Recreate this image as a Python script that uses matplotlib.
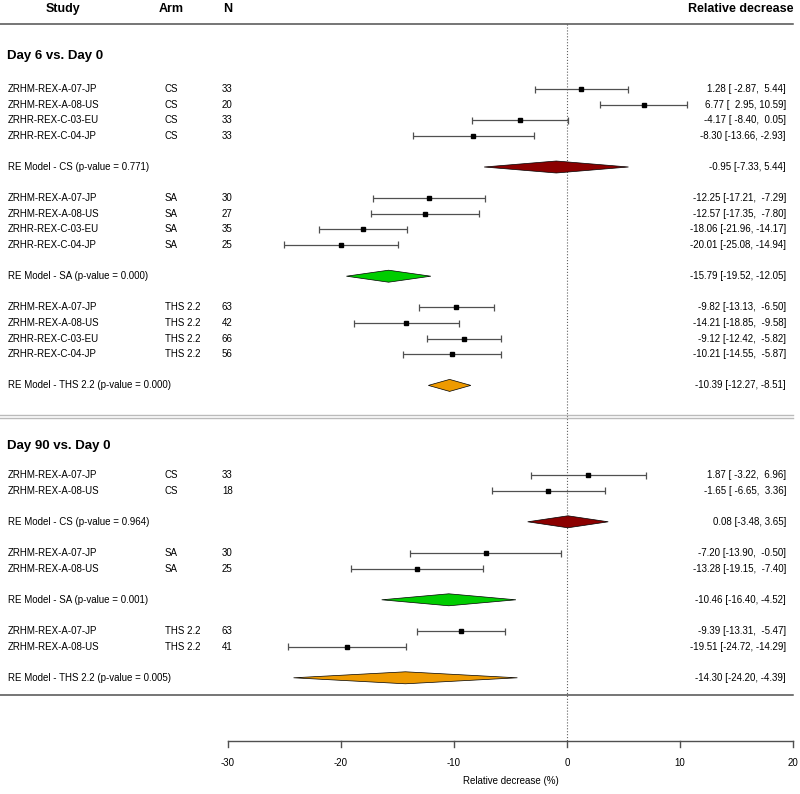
# Forest plot: relative decrease by study, arm and visit
import matplotlib
matplotlib.use("Agg")
import matplotlib.pyplot as plt

plt.rcParams['font.family'] = ['Liberation Sans', 'DejaVu Sans']

# ---- data ----
days = ["Day 6 vs. Day 0", "Day 90 vs. Day 0"]
arms = ["CS", "SA", "THS 2.2"]
arm_colors = ["#8B0000", "#00CD00", "#EE9A00"]

studies_d6 = ["ZRHM-REX-A-07-JP", "ZRHM-REX-A-08-US", "ZRHR-REX-C-03-EU", "ZRHR-REX-C-04-JP"]
studies_d90 = ["ZRHM-REX-A-07-JP", "ZRHM-REX-A-08-US"]

# Day 6
n_d6 = [[33, 20, 33, 33], [30, 27, 35, 25], [63, 42, 66, 56]]
est_d6 = [[1.28, 6.77, -4.17, -8.30], [-12.25, -12.57, -18.06, -20.01], [-9.82, -14.21, -9.12, -10.21]]
lo_d6 = [[-2.87, 2.95, -8.40, -13.66], [-17.21, -17.35, -21.96, -25.08], [-13.13, -18.85, -12.42, -14.55]]
hi_d6 = [[5.44, 10.59, 0.05, -2.93], [-7.29, -7.80, -14.17, -14.94], [-6.50, -9.58, -5.82, -5.87]]
re_est_d6 = [-0.95, -15.79, -10.39]
re_lo_d6 = [-7.33, -19.52, -12.27]
re_hi_d6 = [5.44, -12.05, -8.51]
re_p_d6 = ["0.771", "0.000", "0.000"]

# Day 90
n_d90 = [[33, 18], [30, 25], [63, 41]]
est_d90 = [[1.87, -1.65], [-7.20, -13.28], [-9.39, -19.51]]
lo_d90 = [[-3.22, -6.65], [-13.90, -19.15], [-13.31, -24.72]]
hi_d90 = [[6.96, 3.36], [-0.50, -7.40], [-5.47, -14.29]]
re_est_d90 = [0.08, -10.46, -14.30]
re_lo_d90 = [-3.48, -16.40, -24.20]
re_hi_d90 = [3.65, -4.52, -4.39]
re_p_d90 = ["0.964", "0.001", "0.005"]

xticks = [-30, -20, -10, 0, 10, 20]

# ---- layout (pixel space, 800 x 794) ----
W, H = 800, 794
PX_PER_UNIT = 11.3
X0_PX = 228  # pixel of x = -30
x_left = -30 - X0_PX / PX_PER_UNIT
x_right = x_left + W / PX_PER_UNIT


def px2x(px):
    return x_left + px / PX_PER_UNIT


fig = plt.figure(figsize=(8, 7.94), dpi=100)
ax = fig.add_axes([0, 0, 1, 1])
ax.set_xlim(x_left, x_right)
ax.set_ylim(H, 0)
ax.axis('off')

FS = 7
u = 15.6
line_col = "#505050"


def fmt_ci(e, l, h, wl, wh):
    return f"{e:.2f} [{l:>{wl}.2f}, {h:>{wh}.2f}]"


# column widths for the CI numbers, per arm (across both days)
wlo = []
whi = []
for a in range(3):
    wlo.append(max(len(f"{v:.2f}") for v in lo_d6[a] + lo_d90[a]))
    whi.append(max(len(f"{v:.2f}") for v in hi_d6[a] + hi_d90[a]))

# header
ax.text(px2x(63), 9, "Study", fontsize=9, fontweight='bold', ha='center', va='center')
ax.text(px2x(171), 9, "Arm", fontsize=9, fontweight='bold', ha='center', va='center')
ax.text(px2x(228), 9, "N", fontsize=9, fontweight='bold', ha='center', va='center')
ax.text(px2x(793), 9, "Relative decrease", fontsize=9, fontweight='bold', ha='right', va='center')
ax.plot([px2x(0), px2x(793)], [24, 24], color=line_col, lw=1.1)

blocks = [
    (days[0], 56, 89, studies_d6, n_d6, est_d6, lo_d6, hi_d6, re_est_d6, re_lo_d6, re_hi_d6, re_p_d6),
    (days[1], 446, 475, studies_d90, n_d90, est_d90, lo_d90, hi_d90, re_est_d90, re_lo_d90, re_hi_d90, re_p_d90),
]

for title, ty, y0, studies, ns, ests, los, his, re_e, re_l, re_h, re_p in blocks:
    ax.text(px2x(7), ty, title, fontsize=9.5, fontweight='bold', ha='left', va='center')
    y = y0
    for a in range(3):
        for i, s in enumerate(studies):
            ax.text(px2x(8), y, s, fontsize=FS, ha='left', va='center')
            ax.text(px2x(165), y, arms[a], fontsize=FS, ha='left', va='center')
            ax.text(px2x(222), y, str(ns[a][i]), fontsize=FS, ha='left', va='center')
            ax.hlines(y, los[a][i], his[a][i], color=line_col, lw=0.9)
            ax.vlines([los[a][i], his[a][i]], y - 3.5, y + 3.5, color=line_col, lw=0.9)
            ax.plot(ests[a][i], y, 's', color='black', markersize=3.4)
            ax.text(px2x(786), y, fmt_ci(ests[a][i], los[a][i], his[a][i], wlo[a], whi[a]),
                    fontsize=FS, ha='right', va='center')
            y += u
        y += u
        ax.text(px2x(8), y, f"RE Model - {arms[a]} (p-value = {re_p[a]})",
                fontsize=FS, ha='left', va='center')
        ax.fill([re_l[a], re_e[a], re_h[a], re_e[a]], [y, y - 6, y, y + 6],
                facecolor=arm_colors[a], edgecolor='black', lw=0.5, zorder=3)
        ax.text(px2x(786), y, f"{re_e[a]:.2f} [{re_l[a]:.2f}, {re_h[a]:.2f}]",
                fontsize=FS, ha='right', va='center')
        y += 2 * u

# separators
ax.plot([px2x(0), px2x(793)], [415, 415], color="#bbbbbb", lw=1)
ax.plot([px2x(0), px2x(793)], [418, 418], color="#bbbbbb", lw=1)
ax.plot([px2x(0), px2x(793)], [695, 695], color=line_col, lw=1.1)

# reference line at 0
ax.plot([0, 0], [24, 741], color="#606060", lw=0.8, ls=':', zorder=1)

# x axis
axis_y = 741
ax.plot([xticks[0], xticks[-1]], [axis_y, axis_y], color=line_col, lw=1)
for t in xticks:
    ax.plot([t, t], [axis_y, axis_y + 6], color=line_col, lw=1)
    ax.text(t, 763, str(t), fontsize=FS, ha='center', va='center')
ax.text((xticks[0] + xticks[-1]) / 2, 781, "Relative decrease (%)", fontsize=FS, ha='center', va='center')

fig.savefig("out.png", dpi=100)
